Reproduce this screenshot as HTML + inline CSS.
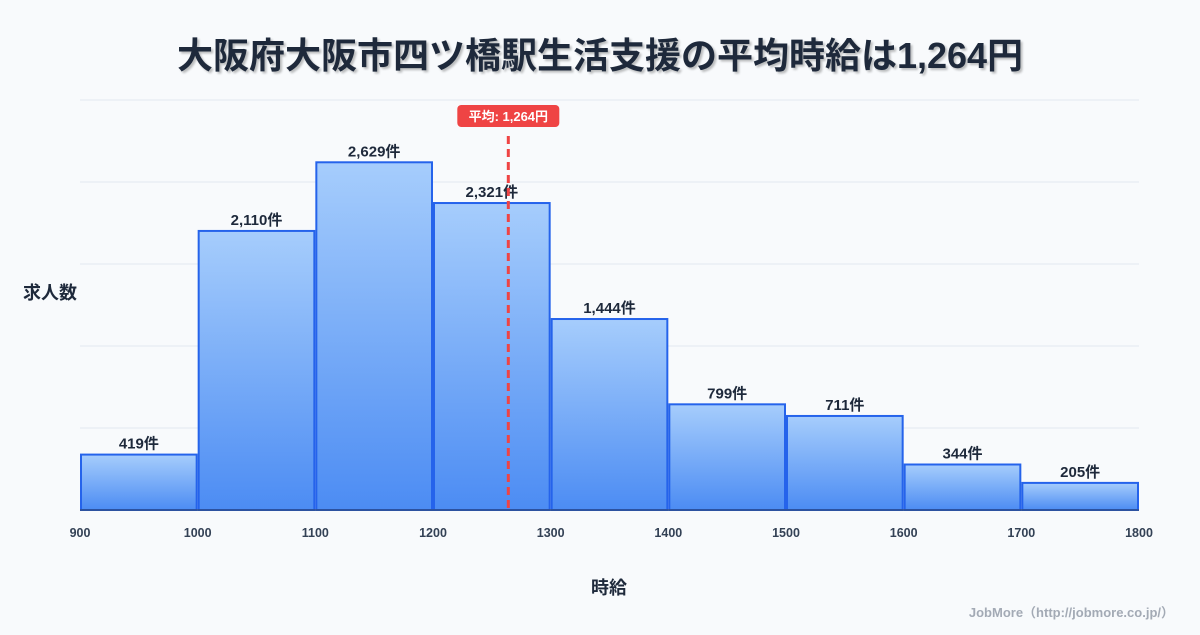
<!DOCTYPE html>
<html><head><meta charset="utf-8"><style>
body{margin:0;background:#f8fafc;font-family:"Liberation Sans","Noto Sans CJK JP",sans-serif;}
svg text{font-family:"Liberation Sans","Noto Sans CJK JP",sans-serif;}
</style></head><body>
<svg id="c" width="1200" height="630">
<defs><linearGradient id="g" x1="0" y1="0" x2="0" y2="1"><stop offset="0" stop-color="#a6cdfc"/><stop offset="1" stop-color="#4c8cf3"/></linearGradient></defs>
<rect width="1200" height="630" fill="#f8fafc"/>
<text x="600" y="68" text-anchor="middle" font-size="36" font-weight="bold" fill="#1e293b" style="text-shadow:2px 2px 2px rgba(0,0,0,0.25)">大阪府大阪市四ツ橋駅生活支援の平均時給は1,264円</text>
<text x="50" y="299" text-anchor="middle" font-size="18" font-weight="bold" fill="#1e293b">求人数</text>
<text x="609" y="594" text-anchor="middle" font-size="18" font-weight="bold" fill="#1e293b">時給</text>
<text x="1174" y="617" text-anchor="end" font-size="13" font-weight="bold" fill="#a3aab5">JobMore（http://jobmore.co.jp/）</text>
<g id="grid"></g><g id="bars"></g><g id="ticks"></g><g id="mean"></g>
</svg>
<script>
const binStarts=[900,1000,1100,1200,1300,1400,1500,1600,1700];
const counts=[419,2110,2629,2321,1444,799,711,344,205];
const xTicks=[900,1000,1100,1200,1300,1400,1500,1600,1700,1800];
const meanValue=1264;
const yMax=3100;
const NS='http://www.w3.org/2000/svg';
const X0=80,X1=1139,Y0=510,Y1=100;
const x=v=>X0+(v-900)/900*(X1-X0);
const y=v=>Y0-v/yMax*(Y0-Y1);
function mk(t,a,p){const e=document.createElementNS(NS,t);for(const k in a)e.setAttribute(k,a[k]);p.appendChild(e);return e;}
const grid=document.getElementById('grid');
for(let i=0;i<=5;i++){const gy=y(yMax*i/5);
const l=mk('line',{x1:X0,x2:X1,y1:gy,y2:gy,stroke:'#e2e8f0','stroke-width':1},grid);

}
const bars=document.getElementById('bars');
counts.forEach((c,i)=>{const xa=x(binStarts[i])+1,xb=x(binStarts[i]+100)-1;
const r=mk('rect',{x:xa,y:y(c),width:xb-xa,height:Y0-y(c),fill:'url(#g)',stroke:'#2563eb','stroke-width':2},bars);


const t=mk('text',{x:(xa+xb)/2,y:y(c)-6,'text-anchor':'middle','font-size':15,'font-weight':'bold',fill:'#1e293b'},bars);
t.textContent=c.toLocaleString('en-US')+'件';

});
const ticks=document.getElementById('ticks');
mk('line',{x1:X0,x2:X1,y1:Y0,y2:Y0,stroke:'#334155','stroke-width':1},ticks);
xTicks.forEach(v=>{const t=mk('text',{x:x(v),y:537,'text-anchor':'middle','font-size':12.5,'font-weight':'bold',fill:'#334155'},ticks);
t.textContent=v;

});
const m=document.getElementById('mean');const mx=x(meanValue);
const ml=mk('line',{x1:mx,x2:mx,y1:136,y2:Y0,stroke:'#ef4444','stroke-width':3,'stroke-dasharray':'8,5'},m);


const mr=mk('rect',{x:mx-51,y:105,width:102,height:22,rx:4,fill:'#ef4444'},m);


const mt=mk('text',{x:mx,y:121,'text-anchor':'middle','font-size':13,'font-weight':'bold',fill:'#fff'},m);
mt.textContent='平均: '+meanValue.toLocaleString('en-US')+'円';


</script>
</body></html>
